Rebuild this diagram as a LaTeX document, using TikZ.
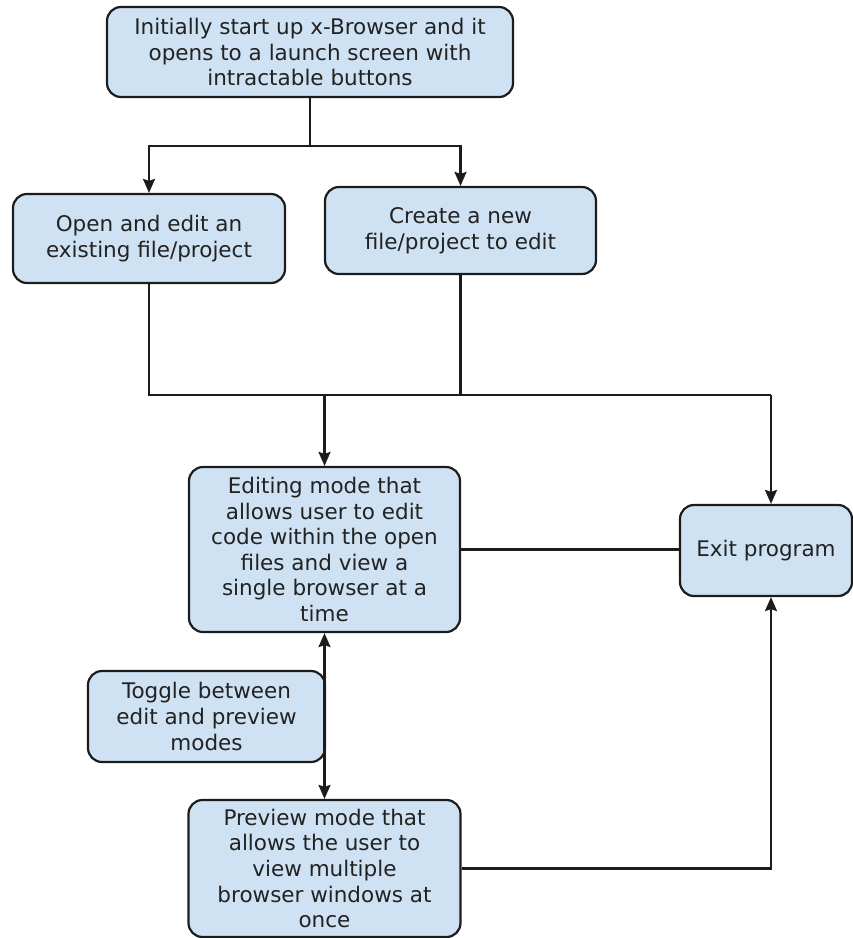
\documentclass[tikz,border=0pt]{standalone}
\usepackage{fontspec}
\setmainfont{DejaVu Sans}
\usetikzlibrary{arrows.meta}
\definecolor{boxfill}{HTML}{CFE2F3}
\definecolor{ink}{HTML}{1C1C1C}
\definecolor{txt}{HTML}{222222}
\begin{document}
\begin{tikzpicture}[x=1pt,y=-1pt,
  flowbox/.style={draw=ink, line width=2.2pt, fill=boxfill, rounded corners=14pt,
    align=center, text=txt, inner sep=0pt,
    font=\fontsize{21.5}{25.6}\selectfont},
  link/.style={draw=ink, line width=2.2pt},
  tip/.style={-{Stealth[length=14pt,width=12pt,inset=2pt]}},
  tips/.style={{Stealth[length=14pt,width=12pt,inset=2pt]}-{Stealth[length=14pt,width=12pt,inset=2pt]}}]
\useasboundingbox (0,0) rectangle (853,938);

\node[flowbox, minimum width=406pt, minimum height=90pt] (start) at (310,52)
  {Initially start up x-Browser and it\\opens to a launch screen with\\intractable buttons};
\node[flowbox, minimum width=272pt, minimum height=89pt] (open) at (149,238.5)
  {Open and edit an\\existing file/project};
\node[flowbox, minimum width=271pt, minimum height=87pt] (create) at (460.5,230.5)
  {Create a new\\file/project to edit};
\node[flowbox, minimum width=271pt, minimum height=165pt] (edit) at (324.5,549.5)
  {Editing mode that\\allows user to edit\\code within the open\\files and view a\\single browser at a\\time};
\node[flowbox, minimum width=172pt, minimum height=91pt] (exit) at (766,550.5)
  {Exit program};
\node[flowbox, minimum width=237pt, minimum height=91pt] (toggle) at (206.5,716.5)
  {Toggle between\\edit and preview\\modes};
\node[flowbox, minimum width=272pt, minimum height=137pt] (preview) at (324.5,868.5)
  {Preview mode that\\allows the user to\\view multiple\\browser windows at\\once};

% split below the start box
\coordinate (split) at (310,146);
\draw[link] (start.south -| split) -- (split);
\draw[link, tip] (split) -| (open.north);
\draw[link, tip] (split) -| (create.north);

% merge of the two entry boxes
\coordinate (merge) at (149,395);
\coordinate (exitcol) at (771,395);
\draw[link] (open.south) -- (merge) -- (exitcol);
\draw[link] (create.south) -- (create.south |- merge);
\draw[link, tip] (edit.north |- merge) -- (edit.north);
\draw[link, tip] (exitcol) -- (exitcol |- exit.north);

% editing, preview and exit
\draw[link] (edit.east) -- (exit.west |- edit.east);
\draw[link, tips] (edit.south) -- (preview.north);
\draw[link, tip] (preview.east) -- (preview.east -| exitcol) -- (exitcol |- exit.south);
\end{tikzpicture}
\end{document}
